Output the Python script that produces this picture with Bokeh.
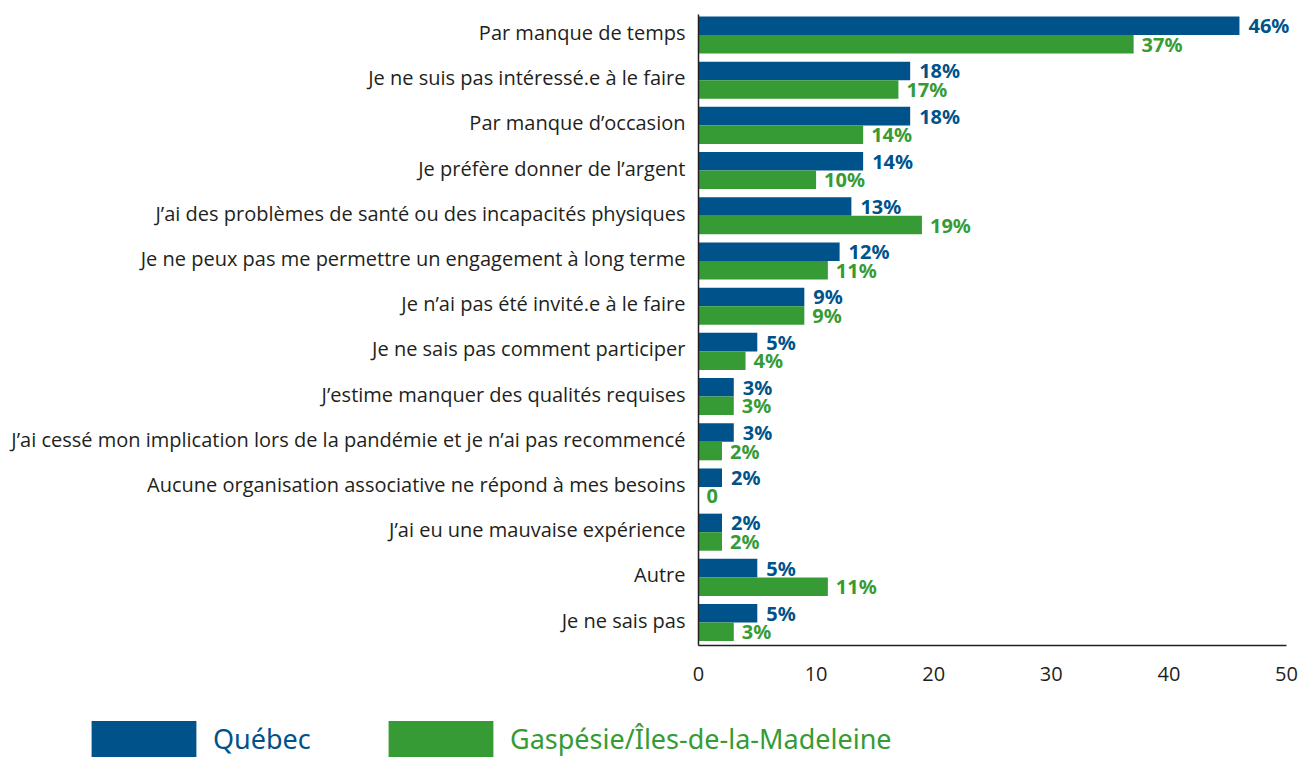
from bokeh.plotting import figure
from bokeh.models import (ColumnDataSource, Range1d, LabelSet, Legend, LegendItem,
                          FixedTicker)
from bokeh.core.properties import value
from bokeh.embed import file_html
from bokeh.resources import INLINE

categories = [
    "Par manque de temps",
    "Je ne suis pas intéressé.e à le faire",
    "Par manque d’occasion",
    "Je préfère donner de l’argent",
    "J’ai des problèmes de santé ou des incapacités physiques",
    "Je ne peux pas me permettre un engagement à long terme",
    "Je n’ai pas été invité.e à le faire",
    "Je ne sais pas comment participer",
    "J’estime manquer des qualités requises",
    "J’ai cessé mon implication lors de la pandémie et je n’ai pas recommencé",
    "Aucune organisation associative ne répond à mes besoins",
    "J’ai eu une mauvaise expérience",
    "Autre",
    "Je ne sais pas",
]
quebec = [46, 18, 18, 14, 13, 12, 9, 5, 3, 3, 2, 2, 5, 5]
gaspesie = [37, 17, 14, 10, 19, 11, 9, 4, 3, 2, 0, 2, 11, 3]
series_names = ["Québec", "Gaspésie/Îles-de-la-Madeleine"]
x_ticks = [0, 10, 20, 30, 40, 50]

BLUE = "#00538A"
GREEN = "#369B35"
TEXT = "#231F20"
LABEL_FONT = "Open Sans"
VALUE_FONT = "Noto Sans"

# ---- layout constants (pixels) ----
W, H = 1299, 758
X0_PX, SX = 698.0, 11.76      # pixel of value 0, pixels per unit
Y0_PX, SY = 32.0, 45.2        # pixel of first row centre, pixels per row
AXIS_PX = 645.0               # pixel row of the bottom axis line
TOP_PX = 14.0                 # top end of the vertical axis line

n = len(categories)
rows = list(range(n))

src_q = ColumnDataSource(dict(
    y=[r - 0.15 for r in rows], x=quebec,
    lab=[f"{v}%" if v else "0" for v in quebec]))
src_g = ColumnDataSource(dict(
    y=[r + 0.26 for r in rows], x=gaspesie,
    lab=[f"{v}%" if v else "0" for v in gaspesie]))
src_c = ColumnDataSource(dict(y=rows, x=[0] * n, lab=categories))

p = figure(width=W, height=H, output_backend="svg", toolbar_location=None,
           x_range=Range1d(-X0_PX / SX, (W - X0_PX) / SX),
           y_range=Range1d((H - Y0_PX) / SY, -Y0_PX / SY),
           min_border_left=0, min_border_right=0,
           min_border_top=0, min_border_bottom=0)
p.outline_line_color = None
p.xgrid.grid_line_color = None
p.ygrid.grid_line_color = None

rq = p.hbar(y="y", right="x", left=0, height=0.41, source=src_q,
            fill_color=BLUE, line_color=None)
rg = p.hbar(y="y", right="x", left=0, height=0.41, source=src_g,
            fill_color=GREEN, line_color=None)

p.add_layout(LabelSet(x="x", y="y", text="lab", source=src_q, x_offset=9,
                      text_align="left", text_baseline="middle",
                      text_font=value(VALUE_FONT), text_font_style="bold",
                      text_font_size="20px", text_color=BLUE))
p.add_layout(LabelSet(x="x", y="y", text="lab", source=src_g, x_offset=8,
                      text_align="left", text_baseline="middle",
                      text_font=value(VALUE_FONT), text_font_style="bold",
                      text_font_size="20px", text_color=GREEN))
p.add_layout(LabelSet(x="x", y="y", text="lab", source=src_c, x_offset=-13,
                      text_align="right", text_baseline="middle",
                      text_font=value(LABEL_FONT), text_font_size="20px",
                      text_color=TEXT))

axis_y = (AXIS_PX - Y0_PX) / SY
top_y = (TOP_PX - Y0_PX) / SY

xa = p.xaxis[0]
xa.fixed_location = axis_y
xa.bounds = (0, 50)
xa.ticker = FixedTicker(ticks=x_ticks)
xa.major_tick_line_color = None
xa.minor_tick_line_color = None
xa.axis_line_color = TEXT
xa.axis_line_width = 1.5
xa.major_label_standoff = 15
xa.major_label_text_font = LABEL_FONT
xa.major_label_text_font_size = "20px"
xa.major_label_text_color = TEXT

ya = p.yaxis[0]
ya.fixed_location = 0
ya.bounds = (top_y, axis_y)
ya.ticker = FixedTicker(ticks=[])
ya.major_tick_line_color = None
ya.minor_tick_line_color = None
ya.axis_line_color = TEXT
ya.axis_line_width = 1.5

for r, name, col, x0 in [(rq, series_names[0], BLUE, 78),
                         (rg, series_names[1], GREEN, 375)]:
    lg = Legend(items=[LegendItem(label=name, renderers=[r])],
                location=(x0, -3), glyph_width=131, glyph_height=45,
                label_standoff=4, label_text_font="Noto Sans",
                label_text_font_size="27px", label_text_color=col,
                label_text_baseline="middle", label_height=45,
                padding=0, margin=0, border_line_color=None,
                background_fill_alpha=0)
    p.add_layout(lg, "center")

open("out.html", "w").write(file_html(p, INLINE))
